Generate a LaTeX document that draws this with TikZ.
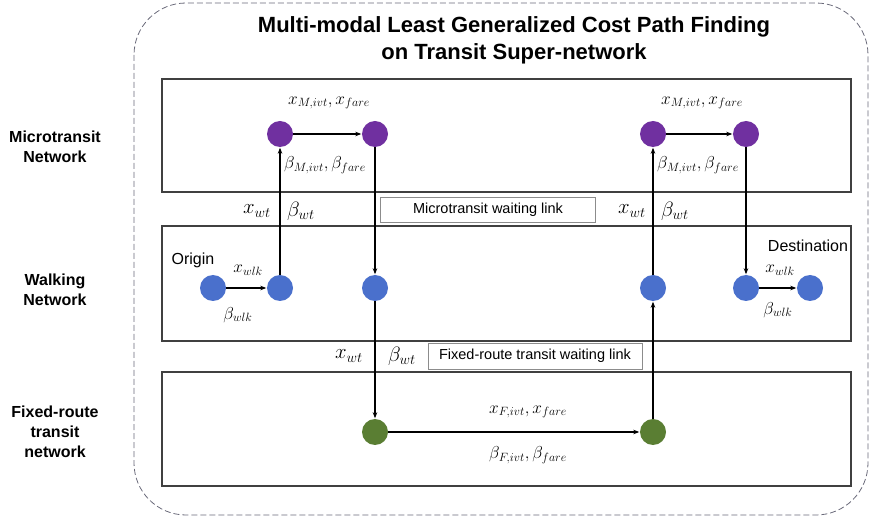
\documentclass[tikz,border=0pt]{standalone}
\usepackage{fontspec}
\setmainfont{Liberation Sans}
\usetikzlibrary{arrows.meta}
\definecolor{mtpurple}{HTML}{7030A0}
\definecolor{wkblue}{HTML}{4A70CC}
\definecolor{frgreen}{HTML}{5A7E33}
\definecolor{layerline}{HTML}{404040}
\definecolor{dashgray}{HTML}{6A6A7A}
\begin{document}
\begin{tikzpicture}[x=1pt,y=-1pt,
  layerbox/.style={draw=layerline, line width=1.1pt, inner sep=0pt},
  pnode/.style={circle, fill=mtpurple, minimum size=26pt, inner sep=0pt},
  bnode/.style={circle, fill=wkblue, minimum size=26pt, inner sep=0pt},
  gnode/.style={circle, fill=frgreen, minimum size=26pt, inner sep=0pt},
  link/.style={-{Stealth[length=6pt,width=4.5pt]}, line width=1.2pt, shorten >=0.5pt},
  lbl/.style={font=\fontsize{16}{18}\selectfont, inner sep=1pt},
  mlbl/.style={font=\fontsize{17.28}{20}\selectfont, inner sep=1pt},
  wlbl/.style={font=\fontsize{20.74}{23}\selectfont, inner sep=1pt},
  side/.style={font=\bfseries\fontsize{16}{20}\selectfont, align=center},
  waitbox/.style={draw=black!45, line width=0.8pt, font=\fontsize{14.5}{17}\selectfont, inner sep=0pt}
  ]
\useasboundingbox (0,0) rectangle (870,518);
% outer dashed frame
\draw[dashgray, dash pattern=on 6pt off 3pt, line width=0.8pt, rounded corners=52pt] (134,3) rectangle (868,515);
% title
\node[font=\bfseries\fontsize{22}{27}\selectfont, align=center] (title) at (514,40)
  {Multi-modal Least Generalized Cost Path Finding\\on Transit Super-network};
% layer boxes
\node[layerbox, minimum width=689pt, minimum height=113pt] (microbox) at (506.5,135.5) {};
\node[layerbox, minimum width=689pt, minimum height=115pt] (walkbox) at (506.5,283.5) {};
\node[layerbox, minimum width=689pt, minimum height=114pt] (fixedbox) at (506.5,429) {};
% side labels
\node[side] (lmicro) at (55,147) {Microtransit\\Network};
\node[side] (lwalk) at (55,290) {Walking\\Network};
\node[side] (lfixed) at (55,432) {Fixed-route\\transit\\network};
% nodes
\node[pnode] (m1) at (280,134) {};
\node[pnode] (m2) at (375,134) {};
\node[pnode] (m3) at (653,134) {};
\node[pnode] (m4) at (746,134) {};
\node[bnode] (w0) at (213,288) {};
\node[bnode] (w1) at (280,288) {};
\node[bnode] (w2) at (375,288) {};
\node[bnode] (w3) at (653,288) {};
\node[bnode] (w4) at (746,288) {};
\node[bnode] (w5) at (810,288) {};
\node[gnode] (f1) at (375,432) {};
\node[gnode] (f2) at (653,432) {};
% connectors
\draw[link] (w0) -- (w1);
\draw[link] (w1) -- (m1);
\draw[link] (m1) -- (m2);
\draw[link] (m2) -- (w2);
\draw[link] (w2) -- (f1);
\draw[link] (f1) -- (f2);
\draw[link] (f2) -- (w3);
\draw[link] (w3) -- (m3);
\draw[link] (m3) -- (m4);
\draw[link] (m4) -- (w4);
\draw[link] (w4) -- (w5);
% micro labels
\node[mlbl] (xm1) at (329,103) {$x_{M,ivt}, x_{fare}$};
\node[mlbl, anchor=west] (bm1) at (283,165) {$\beta_{M,ivt}, \beta_{fare}$};
\node[mlbl] (xm2) at (702,103) {$x_{M,ivt}, x_{fare}$};
\node[mlbl, anchor=west] (bm2) at (656,165) {$\beta_{M,ivt}, \beta_{fare}$};
% waiting labels
\node[wlbl] (xwt1) at (257,211) {$x_{wt}$};
\node[wlbl] (bwt1) at (301,211) {$\beta_{wt}$};
\node[wlbl] (xwt2) at (632,211) {$x_{wt}$};
\node[wlbl] (bwt2) at (675,211) {$\beta_{wt}$};
\node[waitbox, minimum width=215pt, minimum height=25pt] (mwait) at (488,210) {Microtransit waiting link};
\node[wlbl] (xwt3) at (349,356) {$x_{wt}$};
\node[wlbl] (bwt3) at (402,356) {$\beta_{wt}$};
\node[waitbox, minimum width=214pt, minimum height=26pt] (fwait) at (535,356) {Fixed-route transit waiting link};
% walking labels
\node[lbl] (orig) at (193,260) {Origin};
\node[lbl] (dest) at (808,246) {Destination};
\node[mlbl] (xw1) at (248,270) {$x_{wlk}$};
\node[mlbl] (bw1) at (238,315) {$\beta_{wlk}$};
\node[mlbl] (xw2) at (780,270) {$x_{wlk}$};
\node[mlbl] (bw2) at (778,310) {$\beta_{wlk}$};
% fixed labels
\node[mlbl] (xf) at (528,412) {$x_{F,ivt}, x_{fare}$};
\node[mlbl] (bf) at (528,455) {$\beta_{F,ivt}, \beta_{fare}$};
\end{tikzpicture}
\end{document}
